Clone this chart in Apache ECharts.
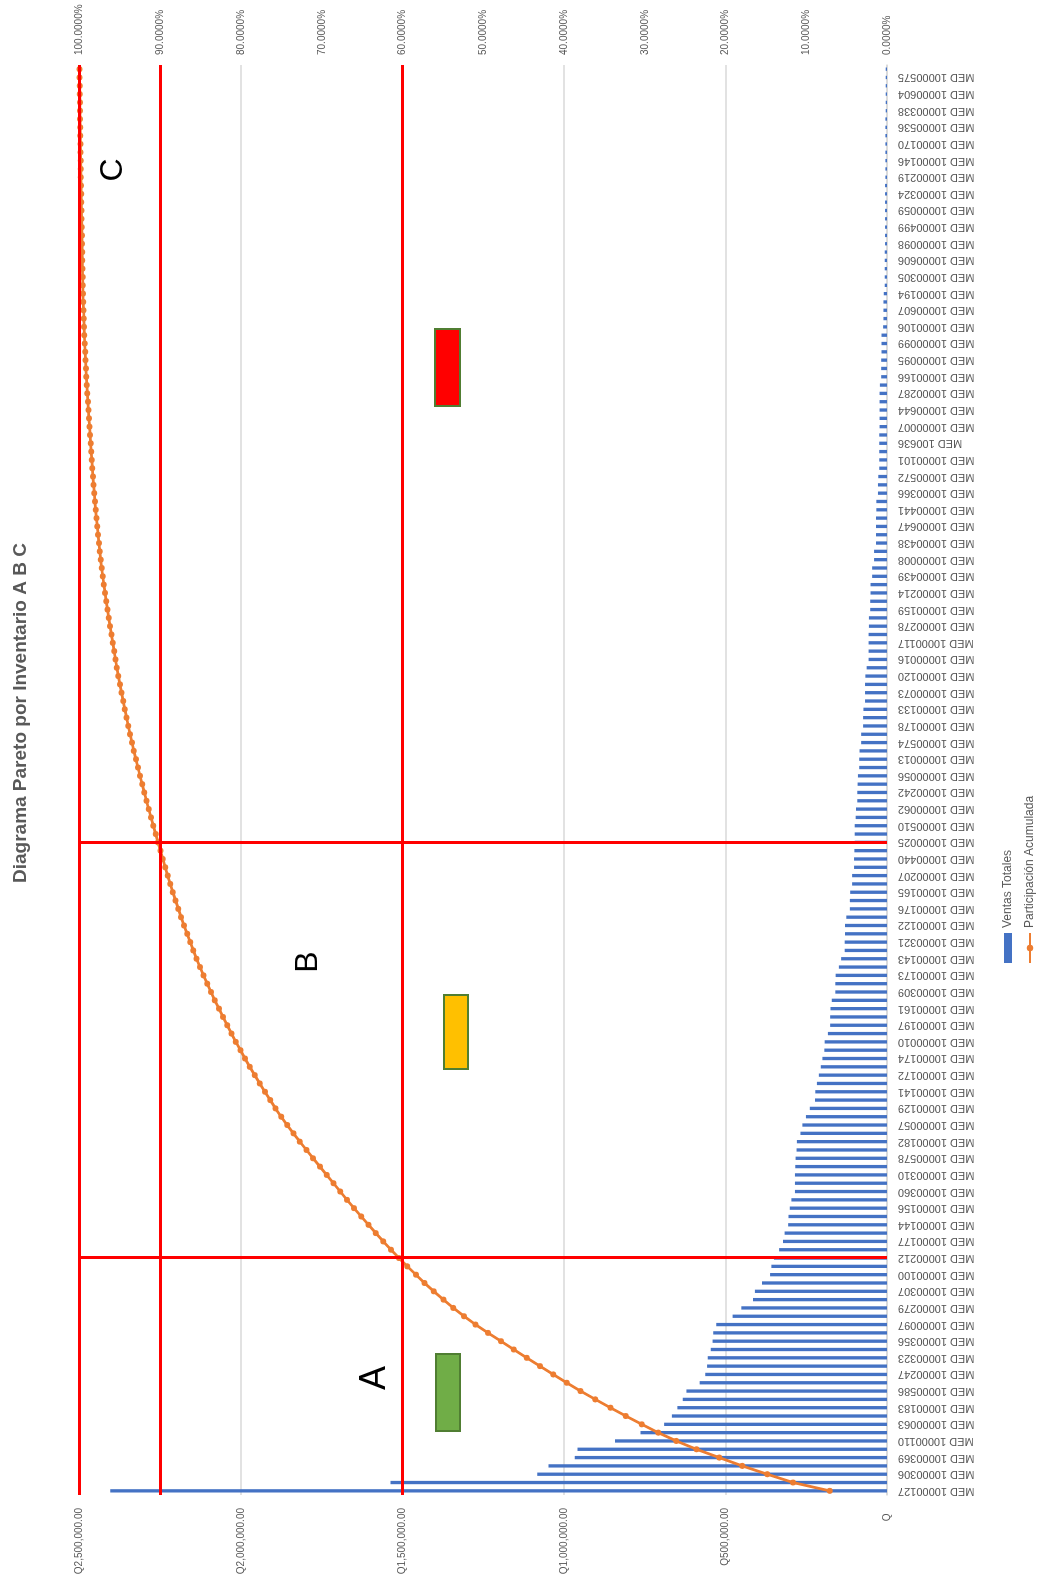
<!DOCTYPE html>
<html lang="es">
<head>
<meta charset="utf-8">
<title>Diagrama Pareto por Inventario A B C</title>
<script src="https://cdn.jsdelivr.net/npm/echarts@6/dist/echarts.min.js"></script>
<style>
  html, body { margin: 0; padding: 0; width: 1046px; height: 1578px; overflow: hidden; background: #ffffff; }
  /* The chart is laid out landscape (1578 x 1046) and turned a quarter turn to fit the portrait page. */
  #chart {
    position: absolute; left: 0; top: 0;
    width: 1578px; height: 1046px;
    transform-origin: 0 0;
    transform: translate(0, 1578px) rotate(-90deg);
  }
</style>
</head>
<body>
<div id="chart"></div>
<script>
// Product codes shown on the category axis (every other product is labelled), in chart order.
const CODES = [
  'MED 10000127','MED 10000306','MED 10000369','MED 10000110','MED 10000063','MED 10000183','MED 10000586','MED 10000247','MED 10000323','MED 10000356',
  'MED 10000097','MED 10000279','MED 10000307','MED 10000100','MED 10000212','MED 10000177','MED 10000144','MED 10000156','MED 10000360','MED 10000310',
  'MED 10000578','MED 10000182','MED 10000057','MED 10000129','MED 10000141','MED 10000172','MED 10000174','MED 10000010','MED 10000197','MED 10000161',
  'MED 10000309','MED 10000173','MED 10000143','MED 10000321','MED 10000122','MED 10000176','MED 10000165','MED 10000207','MED 10000440','MED 10000025',
  'MED 10000510','MED 10000062','MED 10000242','MED 10000056','MED 10000013','MED 10000574','MED 10000178','MED 10000133','MED 10000073','MED 10000120',
  'MED 10000016','MED 10000117','MED 10000278','MED 10000159','MED 10000214','MED 10000439','MED 10000008','MED 10000438','MED 10000647','MED 10000441',
  'MED 10000366','MED 10000572','MED 10000101','MED 100636','MED 10000007','MED 10000644','MED 10000287','MED 10000166','MED 10000095','MED 10000099',
  'MED 10000106','MED 10000607','MED 10000194','MED 10000305','MED 10000606','MED 10000098','MED 10000499','MED 10000059','MED 10000324','MED 10000219',
  'MED 10000146','MED 10000170','MED 10000536','MED 10000338','MED 10000604','MED 10000575'
];

// Ventas Totales per product (Q), sorted from largest to smallest.
const VENTAS = [
  2405000,1537000,1083000,1048000,967000,958000,842000,763000,690000,666000,
  649000,632000,621000,580000,563000,557000,555000,546000,540000,538000,
  529000,478000,451000,415000,409000,387000,362000,358000,350000,334000,
  322000,317000,306000,305000,301000,296000,285000,285000,285000,284000,
  283000,280000,279000,268000,262000,251000,239000,223000,222000,217000,
  211000,205000,200000,194000,193000,183000,176000,176000,175000,171000,
  160000,160000,159000,149000,142000,131000,131000,130000,130000,126000,
  115000,115000,114000,108000,108000,102000,102000,101000,100000,100000,
  100000,97000,96000,92000,92000,91000,90000,86000,86000,85000,
  80000,80000,74000,74000,73000,68000,68000,68000,67000,63000,
  57000,57000,57000,57000,56000,56000,52000,52000,51000,51000,
  46000,46000,40000,40000,34000,34000,34000,34000,33000,33000,
  28000,28000,27000,24000,24000,24000,24000,24000,23000,23000,
  23000,23000,23000,22000,18000,18000,18000,17000,17000,17000,
  12000,11000,11000,11000,10000,7000,7000,7000,7000,7000,
  6000,6000,6000,6000,6000,6000,6000,6000,5000,5000,
  5000,5000,5000,5000,5000,5000,4000,4000,4000,4000,
  4000,4000
];

// Participación Acumulada (%), one value per product.
const PARTICIPACION = [
  7.10,11.63,14.83,17.92,20.77,23.60,26.09,28.34,30.37,32.34,
  34.25,36.12,37.95,39.66,41.33,42.97,44.61,46.22,47.81,49.40,
  50.96,52.37,53.70,54.93,56.13,57.28,58.34,59.40,60.43,61.42,
  62.37,63.30,64.21,65.11,66.00,66.87,67.71,68.55,69.39,70.23,
  71.07,71.89,72.72,73.51,74.28,75.02,75.73,76.38,77.04,77.68,
  78.30,78.91,79.50,80.07,80.64,81.18,81.70,82.22,82.73,83.24,
  83.71,84.18,84.65,85.09,85.51,85.90,86.28,86.67,87.05,87.42,
  87.76,88.10,88.44,88.76,89.08,89.38,89.68,89.98,90.27,90.57,
  90.86,91.15,91.43,91.70,91.97,92.24,92.51,92.76,93.01,93.27,
  93.50,93.74,93.96,94.17,94.39,94.59,94.79,94.99,95.19,95.38,
  95.54,95.71,95.88,96.05,96.21,96.38,96.53,96.69,96.84,96.99,
  97.12,97.26,97.38,97.49,97.59,97.70,97.80,97.90,97.99,98.09,
  98.17,98.26,98.34,98.41,98.48,98.55,98.62,98.69,98.76,98.83,
  98.89,98.96,99.03,99.09,99.15,99.20,99.25,99.30,99.35,99.40,
  99.44,99.47,99.50,99.54,99.57,99.59,99.61,99.63,99.65,99.67,
  99.69,99.70,99.72,99.74,99.76,99.78,99.79,99.81,99.83,99.84,
  99.86,99.87,99.88,99.90,99.91,99.93,99.94,99.95,99.96,99.98,
  99.99,100.00
];

// A / B / C class limits: cumulative-share thresholds and the products where each class ends.
const UMBRALES = [100, 90, 60];
const CORTES = ['MED 10000212', 'MED 10000025'];

// Full category list: labelled codes sit on even positions, the products in between carry no label.
const categories = VENTAS.map((_, i) => (i % 2 === 0 && CODES[i / 2]) ? CODES[i / 2] : '');

const FONT = '"Liberation Sans", Arial, sans-serif';
const GREY = '#595959';

function formatQ(v) {
  if (v === 0) return 'Q  ';
  const parts = v.toFixed(2).split('.');
  parts[0] = parts[0].replace(/\B(?=(\d{3})+(?!\d))/g, ',');
  return 'Q' + parts.join('.');
}

const chart = echarts.init(document.getElementById('chart'), null, { renderer: 'canvas' });

chart.setOption({
  animation: false,
  backgroundColor: '#ffffff',
  title: {
    text: 'Diagrama Pareto por Inventario A B C',
    left: 695, top: 11, padding: 0,
    textStyle: { fontFamily: FONT, fontSize: 19, fontWeight: 'bold', color: GREY }
  },
  legend: {
    orient: 'vertical',
    left: 614, top: 1002, padding: 0,
    itemWidth: 30, itemHeight: 8, itemGap: 10,
    textStyle: { fontFamily: FONT, fontSize: 12, color: GREY },
    data: [
      { name: 'Ventas Totales', icon: 'rect' },
      { name: 'Participación Acumulada' }
    ]
  },
  grid: { left: 83, right: 65, top: 79.5, bottom: 159, containLabel: false, outerBoundsMode: 'none' },
  xAxis: {
    type: 'category',
    data: categories,
    boundaryGap: true,
    axisLine: { show: true, lineStyle: { color: '#D9D9D9', width: 1.5 } },
    axisTick: { show: false },
    axisLabel: { interval: 1, rotate: 90, margin: 11, fontFamily: FONT, fontSize: 11, color: GREY },
    splitLine: { show: false }
  },
  yAxis: [
    {
      type: 'value', min: 0, max: 2500000, interval: 500000,
      axisLine: { show: false }, axisTick: { show: false },
      axisLabel: { formatter: formatQ, fontFamily: FONT, fontSize: 10, color: GREY, margin: 13 },
      splitLine: { show: true, lineStyle: { color: '#D9D9D9', width: 1.5 } }
    },
    {
      type: 'value', position: 'right', min: 0, max: 100, interval: 10,
      axisLine: { show: false }, axisTick: { show: false },
      axisLabel: { formatter: v => v.toFixed(4) + '%', fontFamily: FONT, fontSize: 10, color: GREY, margin: 10 },
      splitLine: { show: false }
    }
  ],
  series: [
    {
      name: 'Ventas Totales',
      type: 'bar',
      data: VENTAS,
      barCategoryGap: '60%',
      itemStyle: { color: '#4472C4' }
    },
    {
      name: 'Participación Acumulada',
      type: 'line',
      yAxisIndex: 1,
      data: PARTICIPACION,
      symbol: 'circle',
      symbolSize: 6,
      showAllSymbol: true,
      lineStyle: { color: '#ED7D31', width: 2.75 },
      itemStyle: { color: '#ED7D31' },
      markLine: {
        silent: true,
        animation: false,
        symbol: 'none',
        label: { show: false },
        emphasis: { disabled: true },
        lineStyle: { color: '#FF0000', width: 3, type: 'solid' },
        data: UMBRALES.map(v => ({ yAxis: v })).concat(CORTES.map(c => ({ xAxis: c })))
      }
    }
  ],
  graphic: [
    { type: 'rect', z: 100, shape: { x: 147, y: 436, width: 77, height: 24 },
      style: { fill: '#70AD47', stroke: '#507E32', lineWidth: 2 } },
    { type: 'rect', z: 100, shape: { x: 509, y: 444, width: 74, height: 24 },
      style: { fill: '#FFC000', stroke: '#507E32', lineWidth: 2 } },
    { type: 'rect', z: 100, shape: { x: 1172, y: 435, width: 77, height: 25 },
      style: { fill: '#FF0000', stroke: '#507E32', lineWidth: 2 } },
    { type: 'text', z: 100, x: 200, y: 375,
      style: { text: 'A', font: '36px ' + FONT, fill: '#000000', align: 'center', verticalAlign: 'middle' } },
    { type: 'text', z: 100, x: 616, y: 308,
      style: { text: 'B', font: '32px ' + FONT, fill: '#000000', align: 'center', verticalAlign: 'middle' } },
    { type: 'text', z: 100, x: 1408, y: 113,
      style: { text: 'C', font: '32px ' + FONT, fill: '#000000', align: 'center', verticalAlign: 'middle' } }
  ]
});
</script>
</body>
</html>
